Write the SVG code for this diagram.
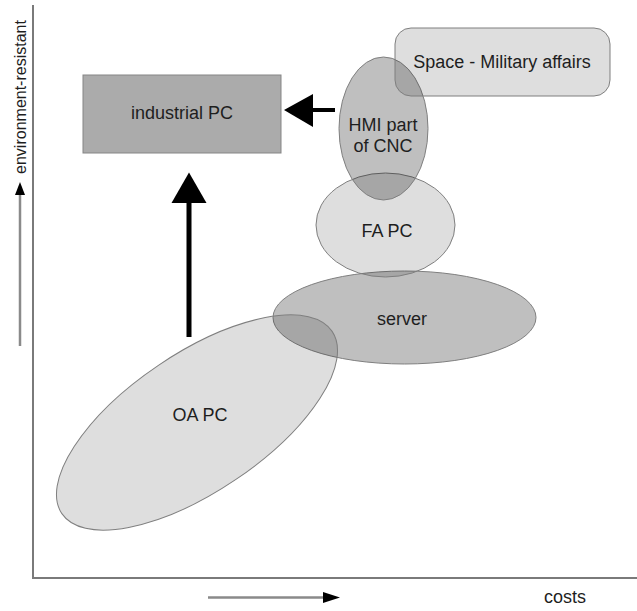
<svg xmlns="http://www.w3.org/2000/svg" width="637" height="611" viewBox="0 0 637 611">
  <style>
    text { font-family: "Liberation Sans", Arial, sans-serif; font-size: 18px; fill: #1e1e1e; text-anchor: middle; }
    .axis { stroke: #7a7a7a; stroke-width: 2; fill: none; }
    .light { fill: #000; fill-opacity: 0.13; stroke: #7f7f7f; stroke-width: 1; }
    .mid { fill: #000; fill-opacity: 0.25; stroke: #7f7f7f; stroke-width: 1; }
    .guide { stroke: #8a8a8a; stroke-width: 2.5; }
    .bold { stroke: #000; stroke-width: 5; }
  </style>
  <defs>
    <marker id="smallHead" markerWidth="10" markerHeight="10" refX="9" refY="5" orient="auto" markerUnits="userSpaceOnUse">
      <path d="M0,0 L10,5 L0,10 Z" fill="#000"/>
    </marker>
  </defs>

  <rect width="637" height="611" fill="#fff"/>

  <!-- axes -->
  <g id="axes">
    <path class="axis" d="M33,5 V578 H637"/>
    <line class="guide" x1="20" y1="346" x2="20" y2="192"/>
    <path d="M20,182 L25,195 L15,195 Z" fill="#000"/>
    <text x="0" y="0" font-size="16" transform="translate(26,97) rotate(-90)" style="font-size:16px">environment-resistant</text>
    <line class="guide" x1="208" y1="597.5" x2="326" y2="597.5"/>
    <path d="M340,597.5 L323,592 L323,603 Z" fill="#000"/>
    <text x="565" y="603">costs</text>
  </g>

  <!-- regions -->
  <g id="server">
    <ellipse class="mid" cx="404.5" cy="317.5" rx="131.5" ry="46.5"/>
  </g>
  <g id="fa-pc">
    <ellipse class="light" cx="385.5" cy="225" rx="69.5" ry="52"/>
  </g>
  <g id="hmi">
    <ellipse class="mid" cx="383.5" cy="128.5" rx="44.5" ry="71.5"/>
  </g>
  <g id="space-military">
    <rect class="light" x="395" y="28" width="215" height="68" rx="16" ry="16"/>
  </g>
  <g id="oa-pc">
    <ellipse class="light" cx="0" cy="0" rx="163" ry="69" transform="translate(197,422.5) rotate(-34)"/>
  </g>
  <g id="industrial-pc">
    <rect x="83" y="75" width="198" height="78" fill="#ababab" stroke="#858585" stroke-width="1"/>
  </g>

  <!-- connectors -->
  <g id="connectors">
    <line class="bold" x1="189" y1="337" x2="189" y2="200"/>
    <path d="M189,172.5 L206.5,203 L171.5,203 Z" fill="#000"/>
    <line x1="335" y1="110" x2="310" y2="110" stroke="#000" stroke-width="4"/>
    <path d="M284,110 L313,94 L313,127 Z" fill="#000"/>
  </g>

  <!-- labels -->
  <g id="labels">
    <text x="182" y="119">industrial PC</text>
    <text x="502" y="68">Space - Military affairs</text>
    <text x="383" y="131">HMI part</text>
    <text x="383" y="152">of CNC</text>
    <text x="387" y="237">FA PC</text>
    <text x="402" y="325">server</text>
    <text x="200" y="421">OA PC</text>
  </g>
</svg>
